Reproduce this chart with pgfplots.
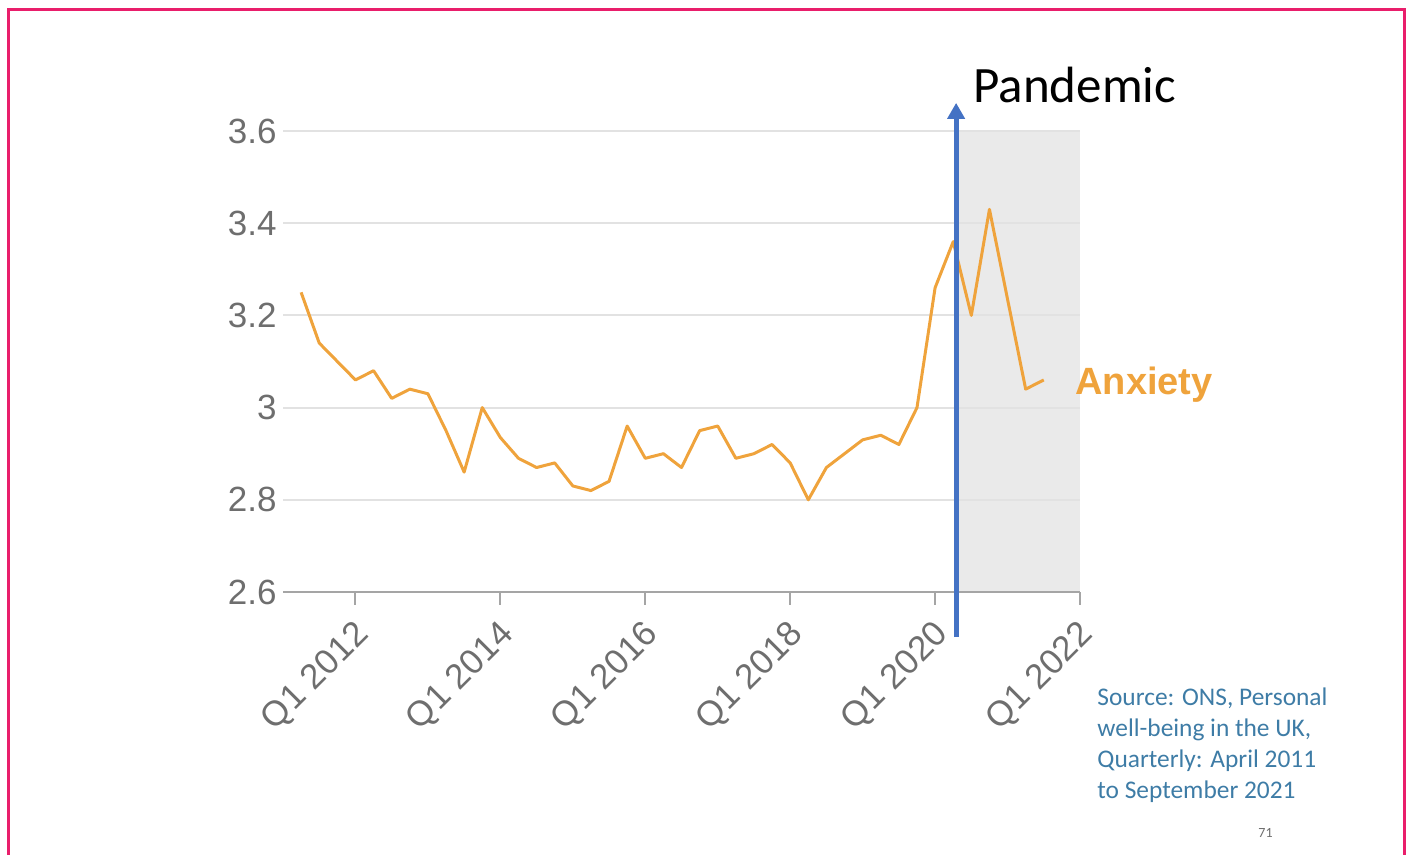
\documentclass[border=0pt]{standalone}
\usepackage{pgfplots}
\pgfplotsset{compat=1.18}
\usepackage{fontspec}
\setmainfont{Liberation Sans}
\newfontfamily\carlito{Carlito}
\usetikzlibrary{arrows.meta}
\definecolor{anx}{RGB}{239,163,60}
\definecolor{pband}{RGB}{68,114,196}
\definecolor{pinkframe}{RGB}{233,30,107}
\definecolor{ticktxt}{RGB}{110,110,110}
\definecolor{axl}{RGB}{165,165,165}
\definecolor{gridc}{RGB}{226,226,226}
\definecolor{shade}{RGB}{234,234,234}
\definecolor{src}{RGB}{62,124,166}
\begin{document}
\begin{tikzpicture}
\begin{axis}[
  set layers,
  at={(141.5pt,131.5pt)}, anchor=south west,
  scale only axis, width=398.5pt, height=230.5pt,
  xmin=2011, xmax=2022, ymin=2.6, ymax=3.6,
  axis lines*=left,
  x axis line style={draw=axl, line width=1pt},
  y axis line style={draw=none},
  xtick={2012,2014,2016,2018,2020,2022},
  xticklabels={Q1 2012,Q1 2014,Q1 2016,Q1 2018,Q1 2020,Q1 2022},
  ytick={2.6,2.8,3,3.2,3.4,3.6},
  yticklabels={2.6,2.8,3,3.2,3.4,3.6},
  tick align=outside,
  major tick length=6.5pt,
  xtick style={draw=axl, line width=1pt},
  ytick style={draw=none},
  ymajorgrids,
  grid style={draw=gridc, line width=1pt},
  tick label style={font=\fontsize{17.5}{20}\selectfont, text=ticktxt},
  yticklabel style={inner sep=0pt, xshift=3.5pt},
  xticklabel style={rotate=45, anchor=north east, inner sep=0pt, xshift=-5.7pt, yshift=-3.7pt},
  clip=false,
]
\addplot[draw=none, fill=shade, on layer=axis background] coordinates {
(2020.32,2.6) (2020.32,3.6) (2022,3.6) (2022,2.6)} -- cycle;
\addplot[anx, line width=1.5pt, line join=round, mark=none] coordinates {
(2011.25,3.25) (2011.5,3.14) (2011.75,3.10) (2012,3.06) (2012.25,3.08)
(2012.5,3.02) (2012.75,3.04) (2013,3.03) (2013.25,2.95) (2013.5,2.86)
(2013.75,3.00) (2014,2.935) (2014.25,2.89) (2014.5,2.87) (2014.75,2.88)
(2015,2.83) (2015.25,2.82) (2015.5,2.84) (2015.75,2.96) (2016,2.89)
(2016.25,2.90) (2016.5,2.87) (2016.75,2.95) (2017,2.96) (2017.25,2.89)
(2017.5,2.90) (2017.75,2.92) (2018,2.88) (2018.25,2.80) (2018.5,2.87)
(2018.75,2.90) (2019,2.93) (2019.25,2.94) (2019.5,2.92) (2019.75,3.00)
(2020,3.26) (2020.25,3.36) (2020.5,3.20) (2020.75,3.43) (2021,3.235)
(2021.25,3.04) (2021.5,3.06)
};
\draw[pband, line width=2.5pt, -{Triangle[width=8.5pt,length=8pt]}]
  (axis cs:2020.29,2.502) -- (axis cs:2020.29,3.661);
\end{axis}
\node[anchor=base west, inner sep=0pt, font=\carlito\fontsize{25.5}{30}\selectfont] at (486.5pt,376pt) {Pandemic};
\node[anchor=base west, inner sep=0pt, text=anx, font=\bfseries\fontsize{19}{22}\selectfont] at (537.5pt,230pt) {Anxiety};
\begin{scope}[every node/.style={anchor=base west, inner sep=0pt, text=src, font=\carlito\fontsize{12.7}{15}\selectfont}]
\node at (548.5pt,74.5pt) {Source: ONS, Personal};
\node at (548.5pt,59pt) {well-being in the UK,};
\node at (548.5pt,43.5pt) {Quarterly: April 2011};
\node at (548.5pt,28pt) {to September 2021};
\end{scope}
\node[anchor=base west, inner sep=0pt, text=ticktxt, font=\carlito\fontsize{7}{8}\selectfont] at (629pt,8.5pt) {71};
\draw[pinkframe, line width=1.5pt] (4.25pt,0) -- (4.25pt,422.75pt) -- (702.25pt,422.75pt) -- (702.25pt,0);
\pgfresetboundingbox
\path[use as bounding box] (0,0) rectangle (705.5pt,427.5pt);
\end{tikzpicture}
\end{document}
